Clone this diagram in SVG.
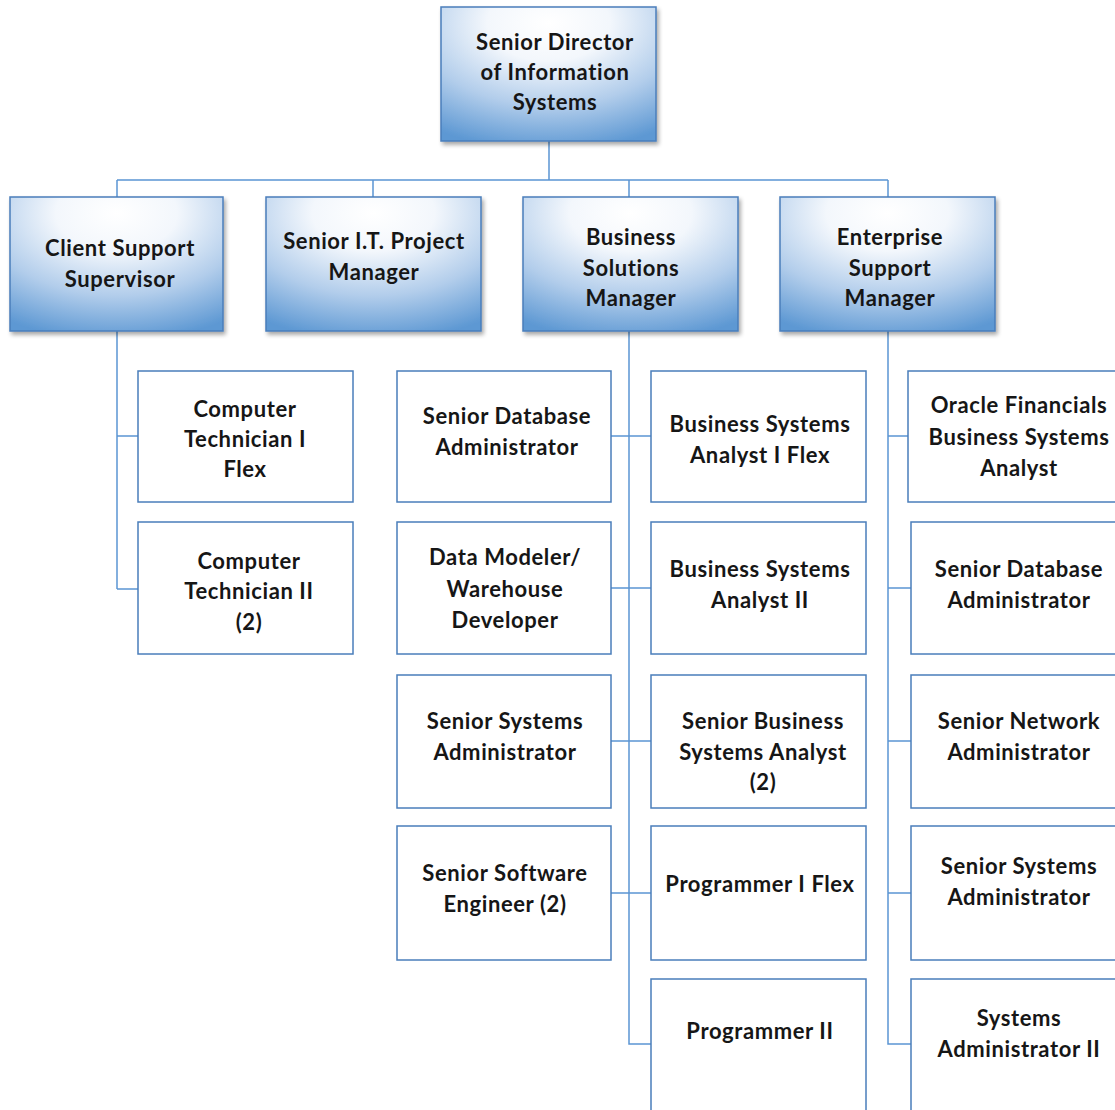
<svg xmlns="http://www.w3.org/2000/svg" width="1115" height="1110" viewBox="0 0 1115 1110">
  <style>
    .mgr { stroke: #4a7ebb; stroke-width: 1.5; fill: url(#blueGrad); filter: url(#shadow); }
    .pos { stroke: #4a7ebb; stroke-width: 1.5; fill: #ffffff; }
    .lbl { font-family: Lato, "Liberation Sans", sans-serif; font-weight: 700; font-size: 22px; letter-spacing: 0.6px; fill: #161616; text-anchor: middle; }
    .conn { stroke: #5b95d3; stroke-width: 1.5; fill: none; }
  </style>
  <defs>
    <radialGradient id="blueGrad" cx="0.5" cy="0.12" r="0.95" fx="0.5" fy="0.12">
      <stop offset="0" stop-color="#ffffff"/>
      <stop offset="0.3" stop-color="#f3f7fc"/>
      <stop offset="0.65" stop-color="#b2cdeb"/>
      <stop offset="1" stop-color="#5d98d3"/>
    </radialGradient>
    <filter id="shadow" x="-10%" y="-10%" width="125%" height="125%">
      <feGaussianBlur in="SourceAlpha" stdDeviation="2"/>
      <feOffset dx="2" dy="3" result="b"/>
      <feComponentTransfer><feFuncA type="linear" slope="0.35"/></feComponentTransfer>
      <feMerge><feMergeNode/><feMergeNode in="SourceGraphic"/></feMerge>
    </filter>
  </defs>

  <rect width="1115" height="1110" fill="#ffffff"/>

  <!-- connectors -->
  <g id="connectors" class="conn">
    <path d="M549 141 V180 M117 180 H888 M117 180 V197 M373 180 V197 M629 180 V197 M888 180 V197"/>
    <path d="M117 331 V589 M117 436 H138 M117 589 H138"/>
    <path d="M629 331 V1044 H651 M611 436 H651 M611 588 H651 M611 741 H651 M611 893 H651"/>
    <path d="M888 331 V1044 H911 M888 436 H908 M888 588 H911 M888 741 H911 M888 893 H911"/>
  </g>

  <!-- top level -->
  <g id="senior-director">
    <rect class="mgr" x="441" y="7" width="215" height="134"/>
    <text class="lbl" x="555" y="50">Senior Director</text>
    <text class="lbl" x="555" y="80">of Information</text>
    <text class="lbl" x="555" y="110">Systems</text>
  </g>

  <!-- managers -->
  <g id="client-support-supervisor">
    <rect class="mgr" x="10" y="197" width="213" height="134"/>
    <text class="lbl" x="120" y="256">Client Support</text>
    <text class="lbl" x="120" y="287">Supervisor</text>
  </g>
  <g id="senior-it-project-manager">
    <rect class="mgr" x="266" y="197" width="215" height="134"/>
    <text class="lbl" x="374" y="249">Senior I.T. Project</text>
    <text class="lbl" x="374" y="280">Manager</text>
  </g>
  <g id="business-solutions-manager">
    <rect class="mgr" x="523" y="197" width="215" height="134"/>
    <text class="lbl" x="631" y="245">Business</text>
    <text class="lbl" x="631" y="276">Solutions</text>
    <text class="lbl" x="631" y="306">Manager</text>
  </g>
  <g id="enterprise-support-manager">
    <rect class="mgr" x="780" y="197" width="215" height="134"/>
    <text class="lbl" x="890" y="245">Enterprise</text>
    <text class="lbl" x="890" y="276">Support</text>
    <text class="lbl" x="890" y="306">Manager</text>
  </g>

  <!-- client support staff -->
  <g id="computer-technician-1">
    <rect class="pos" x="138" y="371" width="215" height="131"/>
    <text class="lbl" x="245" y="417">Computer</text>
    <text class="lbl" x="245" y="447">Technician I</text>
    <text class="lbl" x="245" y="477">Flex</text>
  </g>
  <g id="computer-technician-2">
    <rect class="pos" x="138" y="522" width="215" height="132"/>
    <text class="lbl" x="249" y="569">Computer</text>
    <text class="lbl" x="249" y="599">Technician II</text>
    <text class="lbl" x="249" y="630">(2)</text>
  </g>

  <!-- business solutions staff, left column -->
  <g id="senior-database-administrator-bs">
    <rect class="pos" x="397" y="371" width="214" height="131"/>
    <text class="lbl" x="507" y="424">Senior Database</text>
    <text class="lbl" x="507" y="455">Administrator</text>
  </g>
  <g id="data-modeler">
    <rect class="pos" x="397" y="522" width="214" height="132"/>
    <text class="lbl" x="505" y="565">Data Modeler/</text>
    <text class="lbl" x="505" y="597">Warehouse</text>
    <text class="lbl" x="505" y="628">Developer</text>
  </g>
  <g id="senior-systems-administrator-bs">
    <rect class="pos" x="397" y="675" width="214" height="133"/>
    <text class="lbl" x="505" y="729">Senior Systems</text>
    <text class="lbl" x="505" y="760">Administrator</text>
  </g>
  <g id="senior-software-engineer">
    <rect class="pos" x="397" y="826" width="214" height="134"/>
    <text class="lbl" x="505" y="881">Senior Software</text>
    <text class="lbl" x="505" y="912">Engineer (2)</text>
  </g>

  <!-- business solutions staff, right column -->
  <g id="business-systems-analyst-1">
    <rect class="pos" x="651" y="371" width="215" height="131"/>
    <text class="lbl" x="760" y="432">Business Systems</text>
    <text class="lbl" x="760" y="463">Analyst I Flex</text>
  </g>
  <g id="business-systems-analyst-2">
    <rect class="pos" x="651" y="522" width="215" height="132"/>
    <text class="lbl" x="760" y="577">Business Systems</text>
    <text class="lbl" x="760" y="608">Analyst II</text>
  </g>
  <g id="senior-business-systems-analyst">
    <rect class="pos" x="651" y="675" width="215" height="133"/>
    <text class="lbl" x="763" y="729">Senior Business</text>
    <text class="lbl" x="763" y="760">Systems Analyst</text>
    <text class="lbl" x="763" y="790">(2)</text>
  </g>
  <g id="programmer-1">
    <rect class="pos" x="651" y="826" width="215" height="134"/>
    <text class="lbl" x="760" y="892">Programmer I Flex</text>
  </g>
  <g id="programmer-2">
    <rect class="pos" x="651" y="979" width="215" height="140"/>
    <text class="lbl" x="760" y="1039">Programmer II</text>
  </g>

  <!-- enterprise support staff -->
  <g id="oracle-financials-analyst">
    <rect class="pos" x="908" y="371" width="215" height="131"/>
    <text class="lbl" x="1019" y="413">Oracle Financials</text>
    <text class="lbl" x="1019" y="445">Business Systems</text>
    <text class="lbl" x="1019" y="476">Analyst</text>
  </g>
  <g id="senior-database-administrator-es">
    <rect class="pos" x="911" y="522" width="215" height="132"/>
    <text class="lbl" x="1019" y="577">Senior Database</text>
    <text class="lbl" x="1019" y="608">Administrator</text>
  </g>
  <g id="senior-network-administrator">
    <rect class="pos" x="911" y="675" width="215" height="133"/>
    <text class="lbl" x="1019" y="729">Senior Network</text>
    <text class="lbl" x="1019" y="760">Administrator</text>
  </g>
  <g id="senior-systems-administrator-es">
    <rect class="pos" x="911" y="826" width="215" height="134"/>
    <text class="lbl" x="1019" y="874">Senior Systems</text>
    <text class="lbl" x="1019" y="905">Administrator</text>
  </g>
  <g id="systems-administrator-2">
    <rect class="pos" x="911" y="979" width="215" height="140"/>
    <text class="lbl" x="1019" y="1026">Systems</text>
    <text class="lbl" x="1019" y="1057">Administrator II</text>
  </g>
</svg>
